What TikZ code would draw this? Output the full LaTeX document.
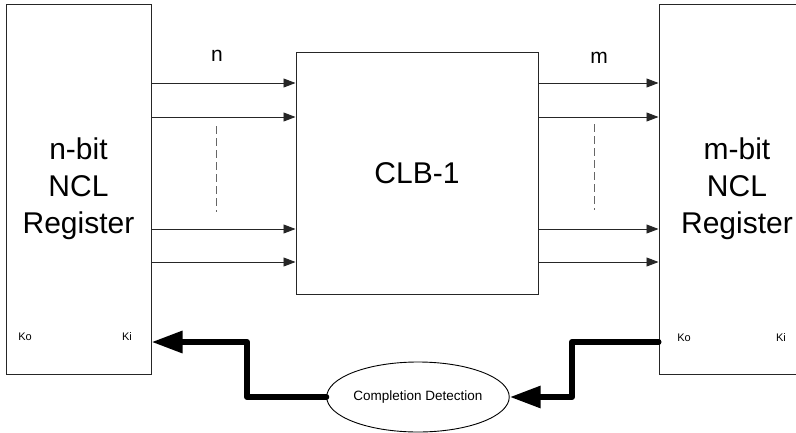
\documentclass[tikz,border=0pt]{standalone}
\usepackage{fontspec}
\setmainfont{Liberation Sans}
\usetikzlibrary{arrows.meta,shapes.geometric}
\begin{document}
\begin{tikzpicture}[x=1pt,y=-1pt,
  box/.style={draw=black!85,line width=1pt,rectangle,inner sep=0pt,align=center,font=\fontsize{30}{37}\selectfont},
  sig/.style={draw=black!85,line width=0.9pt,-{Triangle[length=12pt,width=9pt]}},
  gap/.style={draw=black!60,line width=0.9pt,dash pattern=on 8pt off 4pt},
  ack/.style={draw=black,line width=6pt,line cap=round,line join=round,-{Triangle[length=31pt,width=21pt]}},
  port/.style={font=\fontsize{11}{13}\selectfont,inner sep=0pt},
  lbl/.style={font=\fontsize{21}{24}\selectfont,inner sep=0pt}]
\useasboundingbox (0,0) rectangle (796,432);
\clip (0,0) rectangle (796,432);
\node[box,minimum width=145pt,minimum height=370pt] (lreg) at (78.5,189) {n-bit\\NCL\\Register};
\node[box,minimum width=156pt,minimum height=370pt] (rreg) at (737,189) {m-bit\\NCL\\Register};
\node[box,minimum width=242pt,minimum height=242pt] (clb) at (417,173) {CLB-1};
\node[draw=black,line width=0.9pt,ellipse,minimum width=146pt,minimum height=70pt,inner sep=0pt,font=\fontsize{13.5}{16}\selectfont] (cd) at (418,397) {Completion Detection};
% labels
\node[lbl] (nl) at (217,56) {n};
\node[lbl] (ml) at (599,58) {m};
\node[port] (lko) at (25,337) {Ko};
\node[port] (lki) at (127,337) {Ki};
\node[port] (rko) at (684,338) {Ko};
\node[port] (rki) at (781,338) {Ki};
% input bus
\foreach \yy in {83,117,229,262}{
  \draw[sig] (lreg.east |- 0,\yy) -- (clb.west |- 0,\yy);
  \draw[sig] (clb.east |- 0,\yy) -- (rreg.west |- 0,\yy);
}
\coordinate (d1a) at (216,126);
\coordinate (d1b) at (216,212);
\coordinate (d2a) at (594,124);
\coordinate (d2b) at (594,210);
\draw[gap] (d1a) -- (d1b);
\draw[gap] (d2a) -- (d2b);
% acknowledge paths
\draw[ack] (rreg.west |- 0,342) -- (572,342) -- (572,397) -- (cd.east);
\draw[ack] (cd.west) -- (247,397) -- (247,342) -- (lreg.east |- 0,342);
\end{tikzpicture}
\end{document}
